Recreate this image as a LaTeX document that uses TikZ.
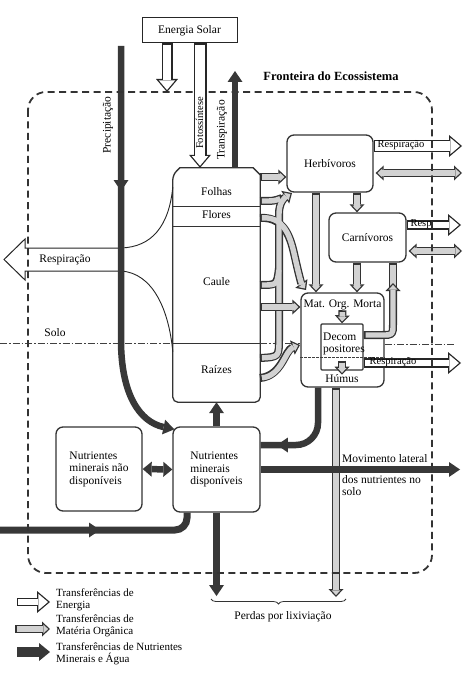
\documentclass[tikz,border=0pt]{standalone}
\usepackage{fontspec}
\setmainfont{Liberation Serif}
\usetikzlibrary{arrows.meta,decorations.markings,decorations.pathreplacing}

\tikzset{
  box/.style={draw=black!80, line width=1.3pt, rounded corners=7pt, align=left, inner sep=2pt},
  nutr/.style={draw=black!78, line width=6.5pt, >={Triangle[length=11pt,width=15pt,line width=0pt]}},
  midtip/.style={postaction={decorate}, decoration={markings, mark=at position #1 with {\arrow{Triangle[length=11pt,width=15pt,line width=0pt]}}}},
  tubeout/.style={draw=black!80, line width=8pt, line join=round, >={Triangle[length=8pt,width=15pt,line width=0pt]}},
  tubein/.style={draw=gray!35, line width=5.4pt, line join=round, >={Triangle[length=4.8pt,width=9pt,line width=0pt]}, shorten >=1.9pt, shorten <=1.9pt},
  energyout/.style={draw=black!85, >={Triangle[length=13pt,width=22pt,line width=0pt]}},
  energyin/.style={draw=white, >={Triangle[length=9.7pt,width=16.4pt,line width=0pt]}, shorten >=2pt, shorten <=1.3pt},
  boundary/.style={draw=black!80, line width=1.8pt, dash pattern=on 7pt off 4.5pt, rounded corners=18pt},
  soilline/.style={draw=black!75, line width=0.7pt, dash pattern=on 7pt off 2pt on 1.5pt off 2pt},
  smalltext/.style={inner sep=0pt, font=\fontsize{10.5}{11}\selectfont},
}

% hollow arrow (energia)
\newcommand{\energyarrow}[2][11pt]{%
  \draw[energyout, line width=#1, ->] #2;
  \draw[energyin, line width=#1-2.6pt, ->] #2;}
% dotted tube (materia organica)
\newcommand{\mattube}[2][->]{%
  \draw[tubeout, #1] #2;
  \draw[tubein, #1] #2;}
% tubes leaving the plant
\newcommand{\plantflows}[1]{%
  \draw[#1, ->] (260,358) .. controls (279,357) .. (279,338) -- (279,214) .. controls (279,203) and (284,198) .. (292,193);
  \draw[#1] (260,201) .. controls (274,201) .. (282,198);
  \draw[#1] (260,285) .. controls (277,285) .. (279,268);
  \draw[#1, ->] (260,218) .. controls (288,216) and (292,245) .. (296,262) .. controls (299,275) and (301,283) .. (306,290);
  \draw[#1, ->] (260,378) .. controls (282,376) and (285,350) .. (300,345);}

\begin{document}
\begin{tikzpicture}[x=1pt, y=-1pt, font=\fontsize{11.5}{12.5}\selectfont]
\useasboundingbox (0,0) rectangle (467,679);

% boxes
\node[draw=black!85, line width=1pt, minimum width=95pt, minimum height=25pt] (solar) at (189.5,30.5) {Energia Solar};
\node[inner sep=0pt, minimum width=87pt, minimum height=234pt] (plant) at (216.5,285) {};
\node[box, minimum width=86pt, minimum height=57pt] (herb) at (330,163.5) {Herbívoros};
\node[box, minimum width=77pt, minimum height=49pt] (carn) at (367.5,237.5) {Carnívoros};
\node[box, minimum width=83pt, minimum height=94pt] (morta) at (342.5,340) {};
\node[box, rounded corners=1pt, minimum width=42pt, minimum height=46pt] (decomp) at (342,347) {};
\node[box, minimum width=87pt, minimum height=85pt] (disp) at (216.5,469.5) {Nutrientes\\minerais\\disponíveis};
\node[box, minimum width=86pt, minimum height=84pt] (indisp) at (99,469) {Nutrientes\\minerais não\\disponíveis};

% plant
\draw[black!80, line width=1.3pt] ([yshift=-7pt]plant.north west) -- ([xshift=7pt]plant.north west) -- ([xshift=-7pt]plant.north east) -- ([yshift=-7pt]plant.north east) [rounded corners=5pt] -- (plant.south east) -- (plant.south west) -- cycle;
\draw[black!80, line width=0.7pt] (plant.west |- 0,206) -- (plant.east |- 0,206);
\draw[black!80, line width=0.7pt] (plant.west |- 0,226) -- (plant.east |- 0,226);
\draw[black!80, line width=0.7pt] (plant.west |- 0,343) -- (plant.east |- 0,343);

% solo
\draw[soilline] (0,343) -- (plant.west |- 0,343);
\draw[soilline] (plant.east |- 0,343) -- (morta.west |- 0,343);
\draw[black!75, line width=0.6pt, dash pattern=on 2.5pt off 1.5pt] (morta.west |- 0,357) -- (morta.east |- 0,357);
\draw[soilline] (morta.east |- 0,344) -- (456,344);

% respiracao da planta
\draw[black!85, line width=1pt, fill=white] (121,248) -- (25,248) -- (25,239) -- (4,259.5) -- (25,280) -- (25,271) -- (121,271);
\draw[black!85, line width=0.9pt] (121,248) .. controls (152,247) and (169,226) .. (plant.west |- 0,187);
\draw[black!85, line width=0.9pt] (121,271) .. controls (153,273) and (169,310) .. (plant.west |- 0,352);

% materia organica
\plantflows{tubeout}
\plantflows{tubein}
\mattube{(plant.east |- 0,177) -- (herb.west |- 0,177)}
\mattube{(plant.east |- 0,307) -- (morta.west |- 0,307)}
\mattube{([xshift=27pt]herb.south) -- ([xshift=-10.5pt]carn.north)}
\mattube{([xshift=-14pt]herb.south) -- ([xshift=-26.5pt]morta.north)}
\mattube{([xshift=-10.5pt]carn.south) -- ([xshift=14.5pt]morta.north)}
\node[inner sep=0pt] (mortalbl) at (342.5,305) {Mat. Org. Morta};
\node[inner sep=0pt] (humus) at (342,379) {Húmus};
\mattube{(mortalbl.south) -- (decomp.north)}
\mattube{([yshift=10pt]decomp.south) -- (humus.north)}
\mattube[-]{(393,289) -- ([xshift=25.5pt]carn.south)}
\mattube{(decomp.east |- 0,335) -- (382,335) .. controls (393,335) .. (393,324) -- (393,283)}
\mattube[<->]{([xshift=2pt]herb.east |- 0,173) -- (462,173)}
\mattube[<->]{([xshift=2pt]carn.east |- 0,251) -- (462,251)}
\mattube{([xshift=-6.5pt]morta.south) -- (336,597)}

% respiracao
\energyarrow[12pt]{(herb.east |- 0,146) -- (462,146)}
\energyarrow[9.5pt]{(carn.east |- 0,225) -- (461,225)}
\energyarrow[9.5pt]{(decomp.east |- 0,363) -- (461,363)}

% nutrientes e agua
\draw[nutr, midtip=145pt, ->] (121,46) -- (121,340) .. controls (121,395) and (140,422) .. ([shift={(2pt,-3pt)}]disp.north west);
\draw[nutr, line width=7pt, rounded corners=12pt, midtip=100pt] (0,530) -| ([xshift=-29.5pt]disp.south);
\draw[nutr, rounded corners=22pt, midtip=89pt] ([xshift=-24.5pt]morta.south) |- ([yshift=24.5pt]disp.east);
\draw[nutr, ->] (disp.east) -- (460,469.5);
\draw[nutr, ->] (disp.north) -- (plant.south);
\draw[nutr, ->] (disp.south) -- (216.5,596);
\draw[nutr, >={Triangle[length=9pt,width=15pt,line width=0pt]}, <->] (indisp.east) -- (disp.west);

% fronteira
\draw[boundary] (28,92) rectangle (432,573);

\draw[nutr, ->] ([xshift=18.5pt]plant.north) -- (235,71);
\energyarrow{([xshift=-22.5pt]solar.south) -- (167,92)}
\energyarrow[13pt]{([xshift=10.5pt]solar.south) -- ([xshift=-16.5pt]plant.north)}

% textos
\node[inner sep=0pt, font=\bfseries\fontsize{12.5}{14}\selectfont] at (331,76) {Fronteira do Ecossistema};
\node[inner sep=0pt, rotate=90] at (108,125) {Precipitação};
\node[inner sep=0pt, rotate=90] at (222,130) {Transpiração};
\node[smalltext, rotate=90] at (199.5,123) {Fotossíntese};
\node[inner sep=0pt] at (216.5,192) {Folhas};
\node[inner sep=0pt] at (216.5,215) {Flores};
\node[inner sep=0pt] at (216.5,282) {Caule};
\node[inner sep=0pt] at (216.5,370) {Raízes};
\node[inner sep=0pt, align=left, anchor=west] at (323,344) {Decom\\positores};
\node[inner sep=0pt] at (65,260) {Respiração};
\node[inner sep=0pt] at (55,333) {Solo};
\node[smalltext] at (401,145) {Respiração};
\node[smalltext] at (421,224) {Resp};
\node[smalltext] at (393,362) {Respiração};
\node[inner sep=0pt, anchor=west] at (342,459) {Movimento lateral};
\node[inner sep=0pt, anchor=west] at (342,480) {dos nutrientes no};
\node[inner sep=0pt, anchor=west] at (342,492) {solo};
\draw[black!80, line width=0.8pt, decorate, decoration={brace, mirror, amplitude=5pt}] (211,599) -- (346,599);
\node[inner sep=0pt] at (283,617) {Perdas por lixiviação};

% legenda
\energyarrow[8pt]{(17,602) -- (50,602)}
\mattube{(15,629) -- (50,629)}
\draw[nutr, line width=10pt, >={Triangle[length=11pt,width=18pt,line width=0pt]}, ->] (17,652) -- (50,652);
\node[inner sep=0pt, align=left, anchor=west, font=\fontsize{11}{11.5}\selectfont] at (56,600) {Transferências de\\Energia};
\node[inner sep=0pt, align=left, anchor=west, font=\fontsize{11}{11.5}\selectfont] at (56,626) {Transferências de\\Matéria Orgânica};
\node[inner sep=0pt, align=left, anchor=west, font=\fontsize{11}{11.5}\selectfont] at (56,654) {Transferências de Nutrientes\\Minerais e Água};
\end{tikzpicture}
\end{document}
